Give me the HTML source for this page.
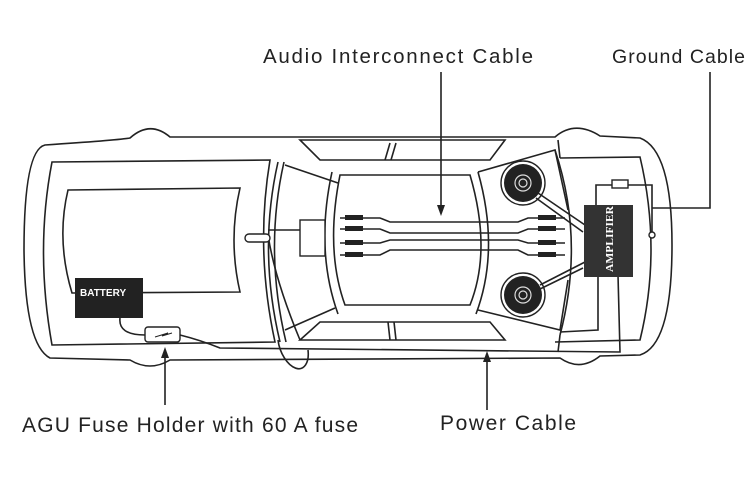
<!DOCTYPE html>
<html><head><style>
body{margin:0;background:#fff;width:750px;height:492px;overflow:hidden}
svg{display:block}
text{font-family:"Liberation Sans",sans-serif;fill:#222}
</style></head><body>
<svg width="750" height="492" viewBox="0 0 750 492" xmlns="http://www.w3.org/2000/svg">
<g fill="none" stroke="#222" stroke-width="1.6">
<path d="M45,145 Q120,140 130,138 Q150,120 170,137 L555,137 Q575,120 600,136 L640,138 Q672,150 672,245 Q672,345 640,355 L600,356 Q580,372 560,358 L170,360 Q150,372 130,360 L50,358 Q25,345 24,250 Q24,150 45,145 Z"/>
<path d="M52,162 L270,160 Q255,250 275,342 L52,345 Q35,250 52,162 Z"/>
<path d="M560,158 L640,157 Q662,250 640,340 L555,342"/>
<path d="M68,190 L240,188 Q228,240 240,292 L72,293 Q56,240 68,190 Z"/>
<path d="M278,162 Q258,250 280,342"/>
<path d="M284,162 Q264,250 286,342"/>
<path d="M300,140 L505,140 L490,160 L320,160 Z"/>
<path d="M300,340 L505,340 L490,322 L320,322 Z"/>
<path d="M390,143 L385,160 M396,143 L391,160 M388,322 L390,340 M394,322 L396,340"/>
<path d="M285,165 L338,183 M285,330 L335,308"/>
<path d="M340,175 Q325,250 345,305 L470,305 Q492,250 470,175 Z"/>
<path d="M332,172 Q315,250 338,314 M478,172 Q500,250 476,314"/>
<path d="M478,172 L555,150 L568,210 M478,310 L560,330 L568,280"/>
<path d="M555,150 Q585,240 560,335"/>
<path d="M560,158 L558,140 M560,335 L558,352"/>
<path d="M268,230 L300,230 M268,235 Q275,280 300,340 M278,340 a12,22 -20 1 0 30,10"/>
<path d="M120,318 Q118,335 145,335 M180,335 Q200,340 220,348 L620,352 L618,275"/>
<path d="M598,275 L598,330 L560,332"/>
<path d="M596,205 L596,185 L652,185 L652,210 M652,210 L652,232"/>
<path d="M652,208 L710,208 L710,72"/>
<path d="M441,72 L441,212"/>
<path d="M165,405 L165,350"/>
<path d="M487,410 L487,355"/>
<path d="M340,218 L380,218 L390,222 L518,222 L528,218 L565,218"/>
<path d="M340,229 L380,229 L390,233 L518,233 L528,229 L565,229"/>
<path d="M340,243 L380,243 L390,240 L518,240 L528,243 L565,243"/>
<path d="M340,255 L380,255 L390,250 L518,250 L528,255 L565,255"/>
<path d="M538,193 L585,225 M536,198 L583,232 M540,285 L585,262 M538,290 L583,268"/>
</g>
<g fill="#222">
<polygon points="437,205 441,216 445,205"/>
<polygon points="161,358 165,347 169,358"/>
<polygon points="483,362 487,351 491,362"/>
<rect x="345" y="215" width="18" height="5"/><rect x="345" y="226" width="18" height="5"/>
<rect x="345" y="240" width="18" height="5"/><rect x="345" y="252" width="18" height="5"/>
<rect x="538" y="215" width="18" height="5"/><rect x="538" y="226" width="18" height="5"/>
<rect x="538" y="240" width="18" height="5"/><rect x="538" y="252" width="18" height="5"/>
<rect x="75" y="278" width="68" height="40"/>
<rect x="584" y="205" width="49" height="72" fill="#333"/>
<circle cx="523" cy="183" r="19"/><circle cx="523" cy="295" r="19"/>
</g>
<g fill="none" stroke="#222" stroke-width="1.4">
<circle cx="523" cy="183" r="22"/><circle cx="523" cy="295" r="22"/>
<rect x="300" y="220" width="25" height="36" fill="#fff"/>
<rect x="245" y="234" width="25" height="8" rx="4" fill="#fff"/>
<rect x="145" y="327" width="35" height="15" rx="3" fill="#fff"/>
<rect x="612" y="180" width="16" height="8" fill="#fff"/>
<circle cx="652" cy="235" r="3" fill="#fff"/>
</g>
<g fill="none" stroke="#ddd" stroke-width="1.2">
<circle cx="523" cy="183" r="8"/><circle cx="523" cy="183" r="4"/>
<circle cx="523" cy="295" r="8"/><circle cx="523" cy="295" r="4"/>
</g>
<path d="M155,337 L168,333 L162,336 L172,333" stroke="#222" fill="none"/>
<text x="80" y="296" font-size="10" font-weight="bold" style="fill:#fff">BATTERY</text>
<text transform="translate(613,272) rotate(-90)" font-size="11" font-weight="bold" textLength="66" lengthAdjust="spacingAndGlyphs" style="fill:#fff;font-family:'Liberation Serif',serif">AMPLIFIER</text>
<text x="263" y="63" font-size="20.5" textLength="270" lengthAdjust="spacing">Audio Interconnect Cable</text>
<text x="612" y="63" font-size="19.5" textLength="133" lengthAdjust="spacing">Ground Cable</text>
<text x="22" y="432" font-size="21" textLength="336" lengthAdjust="spacing">AGU Fuse Holder with 60 A fuse</text>
<text x="440" y="430" font-size="21" textLength="136" lengthAdjust="spacing">Power Cable</text>
</svg>
</body></html>
